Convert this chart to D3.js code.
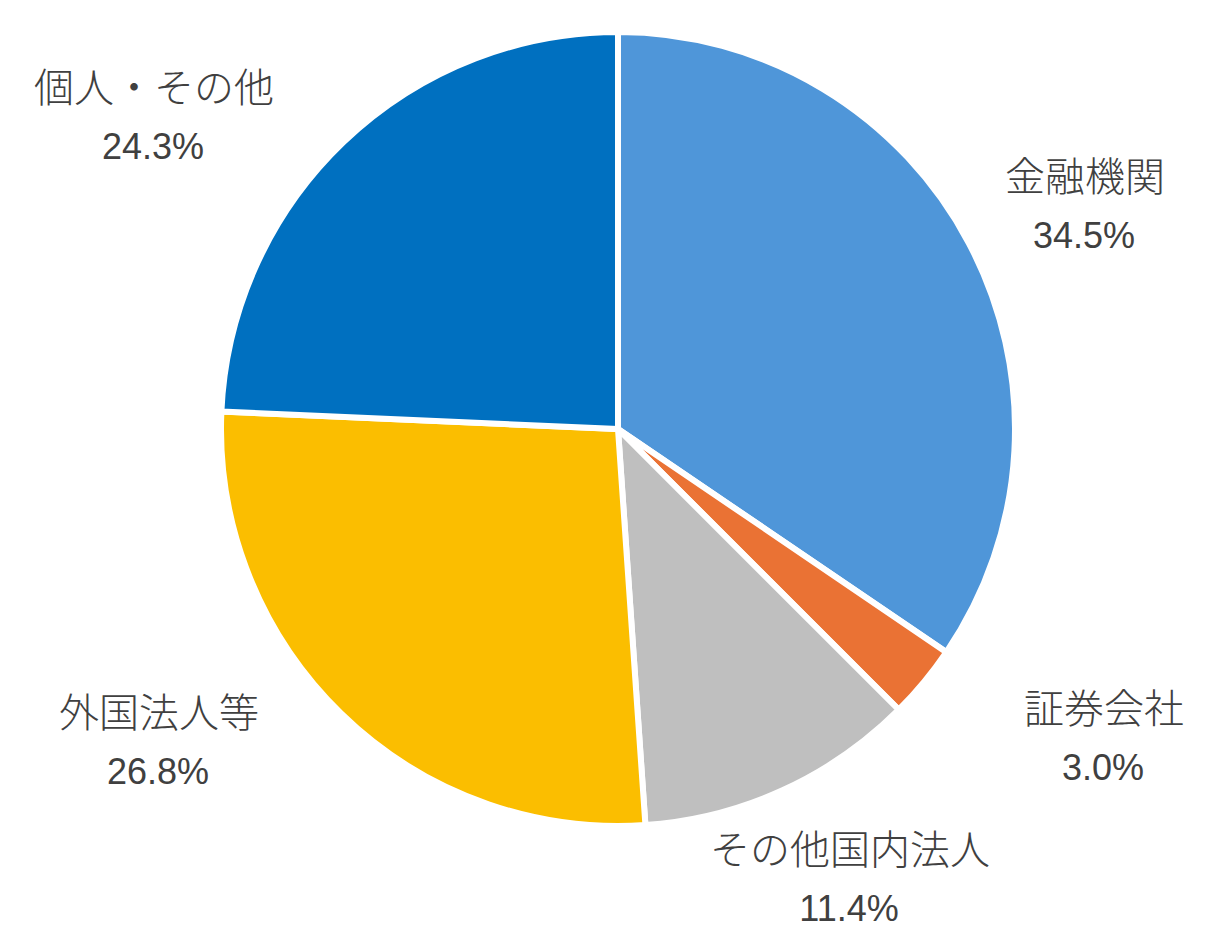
<!DOCTYPE html>
<html>
<head>
<meta charset="utf-8">
<script src="https://cdn.jsdelivr.net/npm/d3@7"></script>
<style>
  html, body { margin: 0; padding: 0; background: #ffffff; }
  svg { display: block; }
</style>
</head>
<body>
<div class="graph"><svg id="pie-chart"></svg></div>
<script>
// shareholder distribution (%), clockwise from 12 o'clock
const categories = ['金融機関', '証券会社', 'その他国内法人', '外国法人等', '個人・その他']
const shares = [34.5, 3.0, 11.4, 26.8, 24.3]
const colors = ['#4f96d9', '#ea7234', '#bfbfbf', '#fbbe00', '#0070c0']

// label anchors (center of the name line), placed like the original data labels
const labelPos = [[1085, 174], [1104, 706], [850, 847], [159, 710], [154, 85]]

const width = 1223
const height = 939
const center = { x: 618, y: 429 }
const radius = 397

const svg = d3.select('#pie-chart')
  .attr('width', width)
  .attr('height', height)

const g = svg.append('g')
  .attr('transform', 'translate(' + center.x + ',' + center.y + ')')

const pie = d3.pie()
  .value(d => d.value)
  .sort(null)

const arc = d3.arc()
  .innerRadius(0)
  .outerRadius(radius)

const data = categories.map((name, i) => ({ name, value: shares[i], color: colors[i] }))

g.selectAll('path')
  .data(pie(data))
  .enter()
  .append('path')
  .attr('d', arc)
  .attr('fill', d => d.data.color)
  .attr('stroke', '#ffffff')
  .attr('stroke-width', 6)
  .attr('stroke-linejoin', 'miter')

const labels = svg.append('g').attr('class', 'labels')

data.forEach((d, i) => {
  const [x, y] = labelPos[i]
  labels.append('text')
    .attr('x', x)
    .attr('y', y)
    .attr('text-anchor', 'middle')
    .attr('dominant-baseline', 'central')
    .attr('font-family', '"Noto Sans CJK JP", sans-serif')
    .attr('font-weight', 300)
    .attr('font-size', '40px')
    .attr('fill', '#404040')
    .text(d.name)

  labels.append('text')
    .attr('x', x - 1)
    .attr('y', y + 74)
    .attr('text-anchor', 'middle')
    .attr('font-family', '"Liberation Sans", Arial, sans-serif')
    .attr('font-size', '36px')
    .attr('fill', '#404040')
    .text(d.value.toFixed(1) + '%')
})
</script>
</body>
</html>
